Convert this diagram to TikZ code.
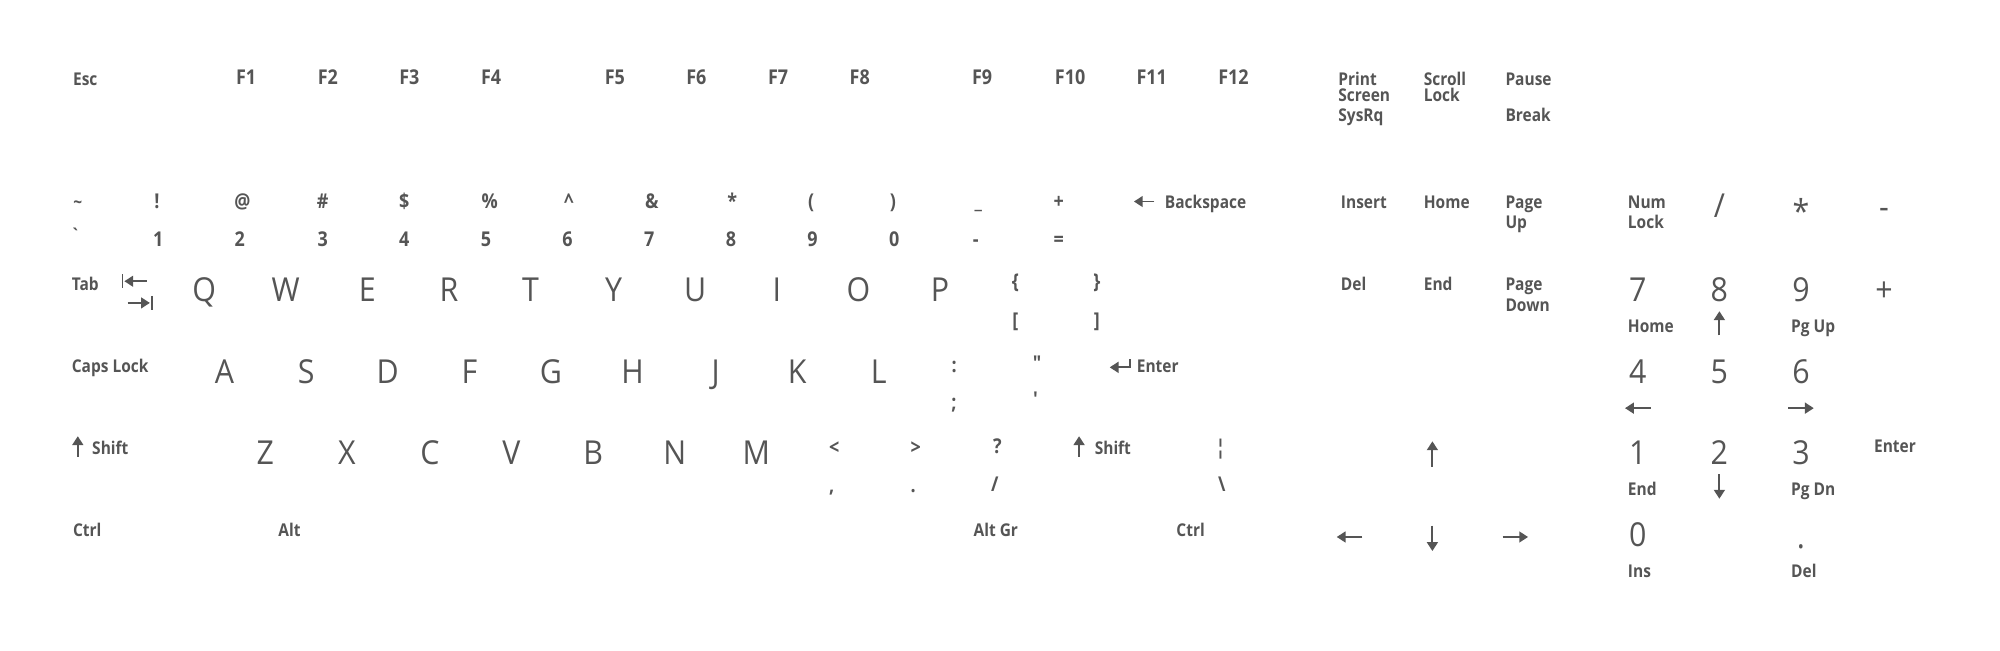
\documentclass[tikz,border=0pt]{standalone}
\usepackage{fontspec}
\usetikzlibrary{arrows.meta}
\newfontfamily\labfont[FakeStretch=0.88]{Open Sans}
\newfontfamily\bigfont[FakeStretch=0.92]{Open Sans}
\definecolor{ink}{HTML}{555555}
\begin{document}
\begin{tikzpicture}[x=0.6378pt,y=-0.6378pt,
  every node/.style={inner sep=0pt,text=ink},
  sm/.style={anchor=mid west,yshift=-1.3pt,font={\labfont\bfseries\fontsize{8.8}{10}\selectfont}},
  smc/.style={anchor=mid,yshift=-1.3pt,font={\labfont\bfseries\fontsize{8.8}{10}\selectfont}},
  md/.style={anchor=mid,yshift=-1.3pt,font={\labfont\bfseries\fontsize{10.2}{12}\selectfont}},
  lg/.style={anchor=mid,yshift=-3.2pt,font={\bigfont\fontsize{16.5}{18}\selectfont}},
  arr/.style={draw=ink,line width=0.95pt,-{Triangle[length=4.4pt,width=5.4pt]}},
  bar/.style={draw=ink,line width=0.95pt}]
\useasboundingbox (0,0) rectangle (1568,510);
% function row
\node (esc) [sm] at (57,62) {Esc};
\foreach \t/\x in {F1/193,F2/257,F3/321,F4/385,F5/482,F6/546,F7/610,F8/674,F9/770,F10/839,F11/903,F12/967}
  \node (\t) [md] at (\x,61) {\t};
\node (print) [sm] at (1049,62) {Print};
\node (screen) [sm] at (1049,74) {Screen};
\node (sysrq) [sm] at (1049,90) {SysRq};
\node (scroll) [sm] at (1116,62) {Scroll};
\node (slock) [sm] at (1116,74) {Lock};
\node (pause) [sm] at (1180,62) {Pause};
\node (break) [sm] at (1180,90) {Break};
% number row
\node (tilde) [smc] at (61,158) {\textasciitilde};
\node (grave) [smc] at (59,184) {\symbol{96}};
\node (excl) [md] at (123,158) {!};
\node (n1) [md] at (124,188) {1};
\node (at) [md] at (190,158) {@};
\node (n2) [md] at (188,188) {2};
\node (hash) [md] at (253,158) {\#};
\node (n3) [md] at (253,188) {3};
\node (dollar) [md] at (317,158) {\$};
\node (n4) [md] at (317,188) {4};
\node (pct) [md] at (384,158) {\%};
\node (n5) [md] at (381,188) {5};
\node (caret) [md] at (446,158) {\textasciicircum};
\node (n6) [md] at (445,188) {6};
\node (amp) [md] at (511,158) {\&};
\node (n7) [md] at (509,188) {7};
\node (star) [md] at (574,158) {*};
\node (n8) [md] at (573,188) {8};
\node (lpar) [md] at (636,158) {(};
\node (n9) [md] at (637,188) {9};
\node (rpar) [md] at (700,158) {)};
\node (n0) [md] at (701,188) {0};
\node (under) [md] at (767,158) {\_};
\node (minus) [md] at (765,188) {-};
\node (plus) [md] at (830,158) {+};
\node (equal) [md] at (830,188) {=};
\coordinate (bsA) at (905,158);
\coordinate (bsB) at (889,158);
\draw[arr] (bsA) -- (bsB);
\node (bksp) [sm] at (913,158) {Backspace};
\node (insert) [sm] at (1051,158) {Insert};
\node (home) [sm] at (1116,158) {Home};
\node (pgup1) [sm] at (1180,158) {Page};
\node (pgup2) [sm] at (1180,174) {Up};
\node (num1) [sm] at (1276,158) {Num};
\node (num2) [sm] at (1276,174) {Lock};
\node (kpdiv) [lg] at (1348,162) {/};
\node (kpmul) [lg] at (1412,167) {*};
\node (kpsub) [lg] at (1477,163) {-};
% qwerty row
\node (tab) [sm] at (56,222) {Tab};
\coordinate (tb1a) at (96,215); \coordinate (tb1b) at (96,226);
\draw[bar] (tb1a) -- (tb1b);
\coordinate (ta1) at (115,220.5); \coordinate (ta2) at (97.5,220.5);
\draw[arr] (ta1) -- (ta2);
\coordinate (tb2a) at (119,232); \coordinate (tb2b) at (119,243);
\draw[bar] (tb2a) -- (tb2b);
\coordinate (ta3) at (100,237.5); \coordinate (ta4) at (117.5,237.5);
\draw[arr] (ta3) -- (ta4);
\foreach \t/\x in {Q/160,W/224,E/288,R/352,T/416,Y/481,U/545,I/609,O/673,P/737}
  \node (k\t) [lg] at (\x,228) {\t};
\node (lbrace) [md] at (796,221) {\{};
\node (rbrace) [md] at (860,221) {\}};
\node (lbrack) [md] at (796,251) {[};
\node (rbrack) [md] at (860,251) {]};
\node (del) [sm] at (1051,222) {Del};
\node (end) [sm] at (1116,222) {End};
\node (pgdn1) [sm] at (1180,222) {Page};
\node (pgdn2) [sm] at (1180,239) {Down};
\node (kp7) [lg] at (1284,228) {7};
\node (kp8) [lg] at (1348,228) {8};
\node (kp9) [lg] at (1412,228) {9};
\node (kpadd) [lg] at (1477,228) {+};
\node (kphome) [sm] at (1276,255) {Home};
\coordinate (u8a) at (1348,263); \coordinate (u8b) at (1348,244);
\draw[arr] (u8a) -- (u8b);
\node (kppgup) [sm] at (1404,255) {Pg Up};
% asdf row
\node (caps) [sm] at (56,287) {Caps Lock};
\foreach \t/\x in {A/176,S/240,D/304,F/368,G/432,H/496,J/561,K/625,L/689}
  \node (k\t) [lg] at (\x,292) {\t};
\node (colon) [md] at (748,287) {:};
\node (semi) [md] at (748,316) {;};
\node (dquote) [md] at (813,285) {"};
\node (squote) [md] at (812,313) {\textquotesingle};
\coordinate (ena) at (886,281.5); \coordinate (enb) at (886,288); \coordinate (enc) at (870,288);
\draw[arr] (ena) -- (enb) -- (enc);
\node (enter) [sm] at (891,287) {Enter};
\node (kp4) [lg] at (1284,292) {4};
\node (kp5) [lg] at (1348,292) {5};
\node (kp6) [lg] at (1412,292) {6};
\coordinate (l4a) at (1294,320); \coordinate (l4b) at (1274,320);
\draw[arr] (l4a) -- (l4b);
\coordinate (r6a) at (1402,320); \coordinate (r6b) at (1422,320);
\draw[arr] (r6a) -- (r6b);
% zxcv row
\coordinate (lsa) at (61,358); \coordinate (lsb) at (61,342);
\draw[arr] (lsa) -- (lsb);
\node (lshift) [sm] at (72,351) {Shift};
\foreach \t/\x in {Z/208,X/272,C/337,V/401,B/465,N/529,M/593}
  \node (k\t) [lg] at (\x,356) {\t};
\node (lt) [md] at (654,351) {<};
\node (comma) [md] at (652,381) {,};
\node (gt) [md] at (718,351) {>};
\node (period) [md] at (716,381) {.};
\node (quest) [md] at (782,350) {?};
\node (slash) [md] at (780,380) {/};
\coordinate (rsa) at (846,358); \coordinate (rsb) at (846,342);
\draw[arr] (rsa) -- (rsb);
\node (rshift) [sm] at (858,351) {Shift};
\node (brbar) [md] at (957,351) {¦};
\node (bslash) [md] at (958,380) {\textbackslash};
\coordinate (upa) at (1123,366); \coordinate (upb) at (1123,346);
\draw[arr] (upa) -- (upb);
\node (kp1) [lg] at (1284,356) {1};
\node (kp2) [lg] at (1348,356) {2};
\node (kp3) [lg] at (1412,356) {3};
\node (kpend) [sm] at (1276,383) {End};
\coordinate (d2a) at (1348,372); \coordinate (d2b) at (1348,391);
\draw[arr] (d2a) -- (d2b);
\node (kppgdn) [sm] at (1404,383) {Pg Dn};
\node (kpenter) [sm] at (1469,349) {Enter};
% bottom row
\node (lctrl) [sm] at (57,415) {Ctrl};
\node (lalt) [sm] at (218,415) {Alt};
\node (altgr) [sm] at (763,415) {Alt Gr};
\node (rctrl) [sm] at (922,415) {Ctrl};
\coordinate (lfa) at (1068,421); \coordinate (lfb) at (1048,421);
\draw[arr] (lfa) -- (lfb);
\coordinate (dna) at (1123,412); \coordinate (dnb) at (1123,432);
\draw[arr] (dna) -- (dnb);
\coordinate (rta) at (1178,421); \coordinate (rtb) at (1198,421);
\draw[arr] (rta) -- (rtb);
\node (kp0) [lg] at (1284,420) {0};
\node (kpdot) [lg] at (1412,422) {.};
\node (kpins) [sm] at (1276,447) {Ins};
\node (kpdel) [sm] at (1404,447) {Del};
\end{tikzpicture}
\end{document}
